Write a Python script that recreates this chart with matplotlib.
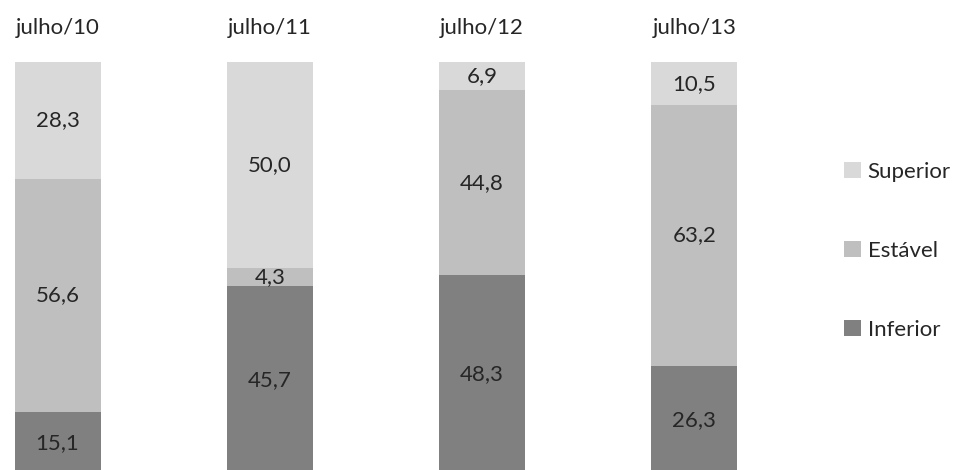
import matplotlib.pyplot as plt
import numpy as np

plt.rcParams['font.family'] = ['Lato', 'DejaVu Sans']

periodos = ["julho/10", "julho/11", "julho/12", "julho/13"]
inferior = [15.1, 45.7, 48.3, 26.3]
estavel = [56.6, 4.3, 44.8, 63.2]
superior = [28.3, 50.0, 6.9, 10.5]

series = [("Inferior", inferior, "#808080"),
          ("Estável", estavel, "#bfbfbf"),
          ("Superior", superior, "#d9d9d9")]

fig = plt.figure(figsize=(9.62, 4.70), dpi=100)
ax = fig.add_axes([0, 1 - 474 / 470, 760 / 962, 412 / 470])

x = np.arange(len(periodos))
base = np.zeros(len(periodos))
handles = []
for nome, vals, cor in series:
    vals = np.array(vals)
    b = ax.bar(x, vals, width=0.405, bottom=base, color=cor, label=nome)
    handles.append(b)
    for xi, bi, vi in zip(x, base, vals):
        ax.text(xi, bi + vi / 2, f"{vi:.1f}".replace(".", ","),
                ha="center", va="center", fontsize=16, color="#262626")
    base += vals

ax.set_xlim(-0.271, 3.309)
ax.set_ylim(0, 100)
ax.xaxis.tick_top()
ax.set_xticks(x)
ax.set_xticklabels(periodos, fontsize=16, color="#262626")
ax.tick_params(axis="x", length=0, pad=17)
ax.set_yticks([])
for s in ax.spines.values():
    s.set_visible(False)

fig.legend(handles[::-1], [h.get_label() for h in handles[::-1]],
           loc="center left", bbox_to_anchor=(0.857, 0.466), frameon=False,
           fontsize=16, handlelength=0.75, handleheight=0.75, handletextpad=0.3,
           labelspacing=2.65, labelcolor="#262626")

fig.savefig("out.png", dpi=100)
